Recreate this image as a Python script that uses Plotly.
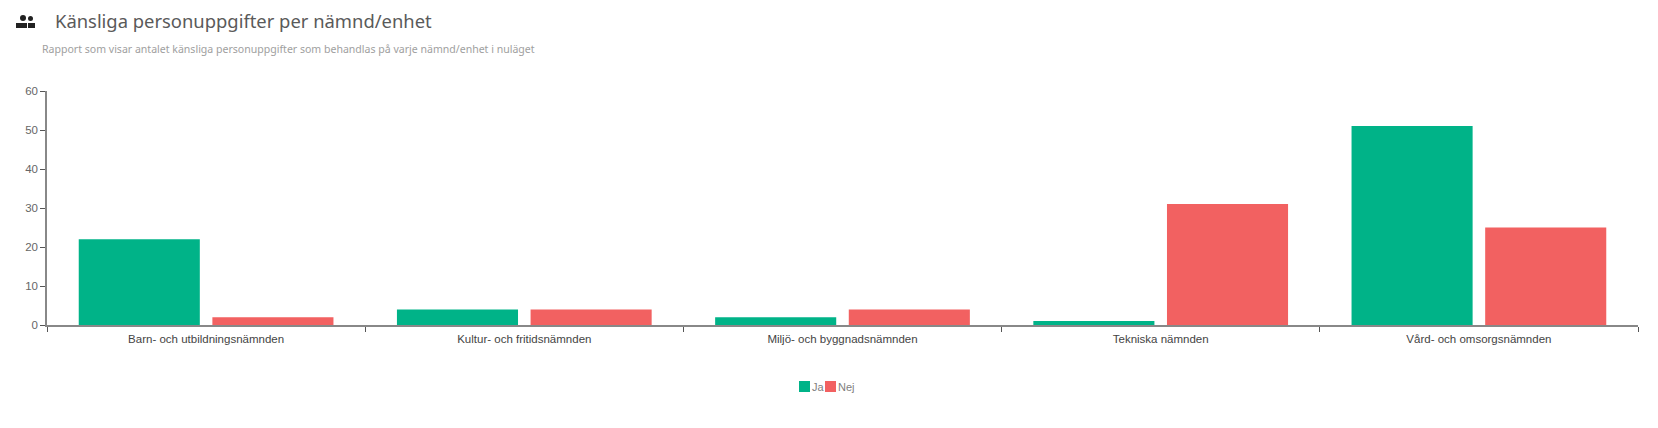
import plotly.graph_objects as go

categories = ["Barn- och utbildningsnämnden", "Kultur- och fritidsnämnden", "Miljö- och byggnadsnämnden", "Tekniska nämnden", "Vård- och omsorgsnämnden"]
ja_values = [22, 4, 2, 1, 51]
nej_values = [2, 4, 4, 31, 25]
y_ticks = [0, 10, 20, 30, 40, 50, 60]
title_text = "Känsliga personuppgifter per nämnd/enhet"
subtitle_text = "Rapport som visar antalet känsliga personuppgifter som behandlas på varje nämnd/enhet i nuläget"
series_names = ["Ja", "Nej"]
series_colors = ["#00B388", "#F26161"]

W, H = 1658, 428
OFF = 8  # the page body adds this margin
L, R, T, B = 47 - OFF, 1638 - OFF, 91 - OFF, 325 - OFF
# page pixel -> plot-area paper fraction
px = lambda x: (x - OFF - L) / (R - L)
py = lambda y: (B - (y - OFF)) / (B - T)

fig = go.Figure()
fig.add_bar(name=series_names[0], x=categories, y=ja_values, marker=dict(color=series_colors[0], line_width=0))
fig.add_bar(name=series_names[1], x=categories, y=nej_values, marker=dict(color=series_colors[1], line_width=0))


def rect(x0, x1, y0, y1, color):
    return dict(type="rect", xref="paper", yref="paper", x0=px(x0), x1=px(x1), y0=py(y0), y1=py(y1),
                fillcolor=color, line_width=0)


def circ(x0, x1, y0, y1, color):
    return dict(type="circle", xref="paper", yref="paper", x0=px(x0), x1=px(x1), y0=py(y0), y1=py(y1),
                fillcolor=color, line_width=0)


def label(text, x, y, size, color, family="Noto Sans, sans-serif"):
    return dict(text=text, xref="paper", yref="paper", x=px(x), y=py(y), xanchor="left", yanchor="middle",
                showarrow=False, font=dict(family=family, size=size, color=color))


ICON = "#222222"
fig.update_layout(
    width=W, height=H, autosize=False,
    paper_bgcolor="white", plot_bgcolor="white",
    margin=dict(l=L, r=W - R, t=T, b=H - B, pad=0),
    barmode="group", bargap=0.16, bargroupgap=0.094,
    font=dict(family="Liberation Sans, Arial, sans-serif", size=11.5, color="#444444"),
    showlegend=False,
    xaxis=dict(showgrid=False, showline=True, linecolor="#888888", linewidth=1.5,
               ticks="outside", tickson="boundaries", ticklen=5, tickcolor="#555555", tickwidth=1,
               ticklabelstandoff=2, zeroline=False, tickfont=dict(color="#444444")),
    yaxis=dict(range=[0, 60], tickvals=y_ticks, showgrid=False, showline=True, linecolor="#888888",
               linewidth=1.5, ticks="outside", ticklen=5, tickcolor="#555555", tickwidth=1,
               zeroline=False, tickfont=dict(color="#666666")),
    annotations=[
        label(title_text, 53, 21, 18.4, "#5a5a5a"),
        label(subtitle_text, 40, 49, 10.56, "#a0a0a0"),
        label(series_names[0], 810, 387, 11, "#808080", "Liberation Sans, Arial, sans-serif"),
        label(series_names[1], 836, 387, 11, "#808080", "Liberation Sans, Arial, sans-serif"),
    ],
    shapes=[
        circ(20, 26, 15, 21, ICON), circ(28, 33, 16, 21, ICON),
        rect(16, 27, 23, 28, ICON), rect(28, 35, 23, 28, ICON),
        rect(799, 810, 381, 392, series_colors[0]),
        rect(825, 836, 381, 392, series_colors[1]),
    ],
)
fig.write_html("out.html")
